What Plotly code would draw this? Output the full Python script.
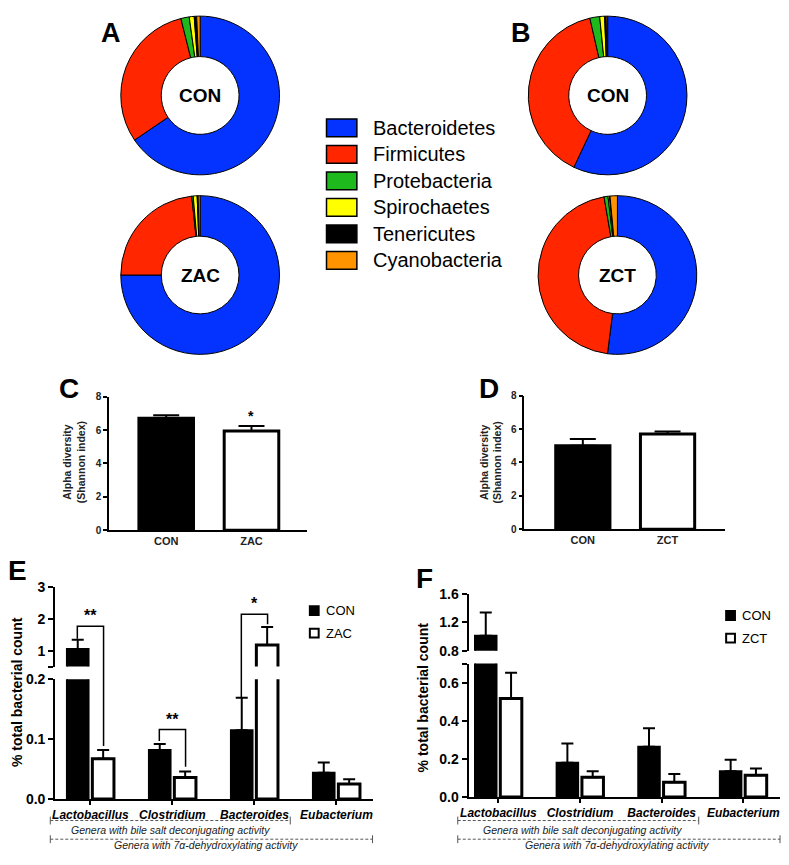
import plotly.graph_objects as go

# the page puts the figure 8px in from the top-left corner (default body margin);
# the figure is kept a little short of the window so that nothing gets cut off
PAGE_W = 789
PAGE_H = 865
OFF = 8
REF_W = PAGE_W - OFF
W = PAGE_W - 2 * OFF
H = PAGE_H - 2 * OFF
FONT = 'Liberation Sans, Arial, sans-serif'

# ---------------- data ----------------
phyla = ['Bacteroidetes', 'Firmicutes', 'Protebacteria', 'Spirochaetes', 'Tenericutes', 'Cyanobacteria']
phyla_colors = ['#0433FF', '#FF2600', '#1DB91D', '#FFFF00', '#000000', '#FF9300']
a_con = [65.5, 30.6, 1.7, 1.0, 0.5, 0.7]
a_zac = [75.0, 23.3, 0.3, 0.8, 0.2, 0.4]
b_con = [57.0, 39.4, 2.0, 1.0, 0.3, 0.3]
b_zct = [52.0, 45.3, 0.8, 0.3, 0.1, 1.5]

groups_c = ['CON', 'ZAC']
shannon_c = [6.70, 5.94]
shannon_c_sem = [0.18, 0.30]
groups_d = ['CON', 'ZCT']
shannon_d = [5.00, 5.70]
shannon_d_sem = [0.40, 0.15]

genera = ['Lactobacillus', 'Clostridium', 'Bacteroides', 'Eubacterium']
e_con = [1.05, 0.082, 0.115, 0.044]
e_con_sem = [0.29, 0.010, 0.054, 0.017]
e_zac = [0.067, 0.036, 1.18, 0.025]
e_zac_sem = [0.015, 0.010, 0.56, 0.008]
f_con = [1.01, 0.18, 0.263, 0.135]
f_con_sem = [0.33, 0.10, 0.097, 0.061]
f_zct = [0.517, 0.103, 0.077, 0.114]
f_zct_sem = [0.135, 0.032, 0.043, 0.036]

# significance brackets in panel E
sig_genus = [0, 1, 2]
sig_top = [1.77, 0.116, 2.14]
sig_left = [1.37, 0.097, 0.169]
sig_right = [0.0885, 0.054, 1.83]
sig_label = ['**', '**', '*']

# ---------------- geometry (page pixels) ----------------
c_x, c_y, c_xr = (103, 305), (396, 532), [-0.67, 1.65]
d_x, d_y, d_xr = (527, 732), (395, 531), [-0.69, 1.68]
e_x, e_xr = (48, 372), [-0.43, 3.44]
e_lo_y, e_lo_r = (684, 806), [0, 0.2]
e_hi_y, e_hi_r = (590, 671), [0.5, 3]
f_x, f_xr = (470, 788), [-0.366, 3.45]
f_lo_y, f_lo_r = (668, 804), [0, 0.7]
f_hi_y, f_hi_r = (597, 655), [0.8, 1.6]


def px(x):
    return (x - OFF) / REF_W


def py(y):
    return 1 - (y - OFF) / H


def clamp(v):
    return min(1.0, max(0.0, v))


def dom_x(b):
    return [px(b[0]), px(b[1])]


def dom_y(b):
    return [py(b[1]), py(b[0])]


def e_ypx(v):
    if v >= e_hi_r[0]:
        (top, bot), (lo, hi) = e_hi_y, e_hi_r
    else:
        (top, bot), (lo, hi) = e_lo_y, e_lo_r
    return bot - (v - lo) / (hi - lo) * (bot - top)


def e_xpx(i):
    return e_x[0] + (i - e_xr[0]) / (e_xr[1] - e_xr[0]) * (e_x[1] - e_x[0])


def note(x, y, text, size, color='black', **kw):
    d = dict(x=px(x), y=py(y), xref='paper', yref='paper', showarrow=False,
             xanchor='center', yanchor='middle', text=text,
             font=dict(family=FONT, size=size, color=color))
    d.update(kw)
    return d


fig = go.Figure()
shapes = []
annotations = []

# ---------------- donuts (A, B) ----------------
R = 81
pies = [(a_con, 196, 89, 'CON'), (a_zac, 196, 272, 'ZAC'),
        (b_con, 612, 89, 'CON'), (b_zct, 622, 272, 'ZCT')]
for vals, cx, cy, lab in pies:
    fig.add_trace(go.Pie(
        labels=phyla, values=vals, hole=0.49, sort=False, direction='clockwise', rotation=0,
        marker=dict(colors=phyla_colors, line=dict(color='black', width=1)),
        textinfo='none', showlegend=False,
        domain=dict(x=[clamp(px(cx - R)), clamp(px(cx + R))],
                    y=[clamp(py(cy + R)), clamp(py(cy - R))])))
    annotations.append(note(cx, cy, '<b>' + lab + '</b>', 19))

# donut legend
for i, (name, col) in enumerate(zip(phyla, phyla_colors)):
    yc = 122 + 27 * i
    shapes.append(dict(type='rect', xref='paper', yref='paper', x0=px(325), x1=px(356),
                       y0=py(yc + 9), y1=py(yc - 9), fillcolor=col,
                       line=dict(color='black', width=1.5)))
    annotations.append(note(370, yc, name, 20, xanchor='left'))

# ---------------- C, D: Shannon bars ----------------
for xs, ys, sem, xa, ya in [(groups_c, shannon_c, shannon_c_sem, 'x', 'y'),
                            (groups_d, shannon_d, shannon_d_sem, 'x2', 'y2')]:
    fig.add_trace(go.Bar(
        x=xs, y=ys, xaxis=xa, yaxis=ya, width=0.64, showlegend=False,
        marker=dict(color=['black', 'white'], line=dict(color='black', width=3)),
        error_y=dict(type='data', array=sem, arrayminus=[0, 0], symmetric=False,
                     color='black', thickness=2, width=13)))

annotations.append(dict(x='ZAC', y=shannon_c[1] + shannon_c_sem[1], xref='x', yref='y',
                        showarrow=False, xanchor='center', yanchor='bottom', text='<b>*</b>',
                        font=dict(family=FONT, size=14, color='black')))

# ---------------- E, F: broken-axis grouped bars ----------------
panels = [(e_con, e_con_sem, e_zac, e_zac_sem, 'ZAC', 'x3', ['y3', 'y4']),
          (f_con, f_con_sem, f_zct, f_zct_sem, 'ZCT', 'x4', ['y5', 'y6'])]
for con, con_sem, trt, trt_sem, trt_name, xa, yas in panels:
    for ya in yas:
        fig.add_trace(go.Bar(
            x=genera, y=con, xaxis=xa, yaxis=ya, name='CON', showlegend=False,
            marker=dict(color='black', line=dict(color='black', width=2)),
            error_y=dict(type='data', array=con_sem, arrayminus=[0] * 4, symmetric=False,
                         color='black', thickness=2, width=6)))
        fig.add_trace(go.Bar(
            x=genera, y=trt, xaxis=xa, yaxis=ya, name=trt_name, showlegend=False,
            marker=dict(color='white', line=dict(color='black', width=3)),
            error_y=dict(type='data', array=trt_sem, arrayminus=[0] * 4, symmetric=False,
                         color='black', thickness=2, width=6)))

# significance brackets
for g, top, left, right, lab in zip(sig_genus, sig_top, sig_left, sig_right, sig_label):
    x1, x2 = e_xpx(g - 0.16), e_xpx(g + 0.16)
    path = 'M {},{} L {},{} L {},{} L {},{}'.format(
        px(x1), py(e_ypx(left)), px(x1), py(e_ypx(top)),
        px(x2), py(e_ypx(top)), px(x2), py(e_ypx(right)))
    shapes.append(dict(type='path', xref='paper', yref='paper', path=path,
                       line=dict(color='black', width=1.5)))
    annotations.append(note(e_xpx(g), e_ypx(top), '<b>' + lab + '</b>', 16, yanchor='bottom'))

# E / F legends
for lx, ly, trt_name in [(308, 614, 'ZAC'), (733, 619, 'ZCT')]:
    for k, (fill, lab) in enumerate([('black', 'CON'), ('white', trt_name)]):
        yc = ly + 23 * k
        shapes.append(dict(type='rect', xref='paper', yref='paper', x0=px(lx), x1=px(lx + 9),
                           y0=py(yc + 4.5), y1=py(yc - 4.5), fillcolor=fill,
                           line=dict(color='black', width=2)))
        annotations.append(note(lx + 14, yc, lab, 13, xanchor='left'))

# dashed activity brackets under E and F
activity = [(43, 288, 828, 166, 838, 'Genera with bile salt deconjugating activity'),
            (43, 372, 847, 202, 853, 'Genera with 7\u03b1-dehydroxylating activity'),
            (459, 705, 828, 586, 838, 'Genera with bile salt deconjugating activity'),
            (459, 788, 847, 622, 853, 'Genera with 7\u03b1-dehydroxylating activity')]
for x0, x1, yl, tx, ty, txt in activity:
    shapes.append(dict(type='line', xref='paper', yref='paper', x0=px(x0), x1=px(x1),
                       y0=py(yl), y1=py(yl), line=dict(color='#555', width=1, dash='3px,2px')))
    for xe in (x0, x1):
        shapes.append(dict(type='line', xref='paper', yref='paper', x0=px(xe), x1=px(xe),
                           y0=py(yl - 4), y1=py(yl + 4), line=dict(color='#555', width=1)))
    annotations.append(note(tx, ty, '<i>' + txt + '</i>', 10.5, color='#222'))

# axis titles
for tx, ty in [(68, 463), (493, 463)]:
    annotations.append(note(tx, ty, '<b>Alpha diversity<br>(Shannon index)</b>', 10.5,
                            color='#222', textangle=-90))
for tx, ty in [(9, 697), (423, 702)]:
    annotations.append(note(tx, ty, '<b>% total bacterial count</b>', 14, textangle=-90))

# panel letters
annotations.append(note(105, OFF, '<b>A</b>', 27, yanchor='top'))
annotations.append(note(524, OFF, '<b>B</b>', 27, yanchor='top'))
for letter, lx, ly in [('C', 62, 388), ('D', 491, 388), ('E', 10, 573), ('F', 425, 581)]:
    annotations.append(note(lx, ly, '<b>' + letter + '</b>', 28))

# ---------------- axes ----------------
base = dict(showline=True, linecolor='black', showgrid=False, zeroline=False,
            ticks='outside', tickcolor='black', fixedrange=True)
small_tick = dict(family=FONT, size=10, color='#222', weight='bold')
big_tick = dict(family=FONT, size=14, color='black', weight='bold')
cat_tick = dict(family=FONT, size=12, color='black', weight='bold', style='italic')

fig.update_layout(
    xaxis=dict(base, domain=dom_x(c_x), range=c_xr, anchor='y', ticks='', linewidth=1.5,
               tickfont=dict(small_tick, size=11)),
    yaxis=dict(base, domain=dom_y(c_y), range=[0, 8], anchor='x', tickvals=[0, 2, 4, 6, 8],
               linewidth=1.5, ticklen=4, tickwidth=1.5, tickfont=small_tick),
    xaxis2=dict(base, domain=dom_x(d_x), range=d_xr, anchor='y2', ticks='', linewidth=1.5,
                tickfont=dict(small_tick, size=11)),
    yaxis2=dict(base, domain=dom_y(d_y), range=[0, 8], anchor='x2', tickvals=[0, 2, 4, 6, 8],
                linewidth=1.5, ticklen=4, tickwidth=1.5, tickfont=small_tick),
    xaxis3=dict(base, domain=dom_x(e_x), range=e_xr, anchor='y3', linewidth=2, ticklen=4,
                tickwidth=1.5, tickangle=0, tickfont=cat_tick),
    yaxis3=dict(base, domain=dom_y(e_lo_y), range=e_lo_r, anchor='x3', linewidth=2,
                tickvals=[0, 0.1, 0.2], ticktext=['0.0', '0.1', '0.2'], ticklen=5, tickwidth=2,
                tickfont=big_tick),
    yaxis4=dict(base, domain=dom_y(e_hi_y), range=e_hi_r, anchor='x3', linewidth=2,
                tickvals=[0.5, 1, 2, 3], ticktext=['', '1', '2', '3'], ticklen=5, tickwidth=2,
                tickfont=big_tick),
    xaxis4=dict(base, domain=dom_x(f_x), range=f_xr, anchor='y5', linewidth=2, ticklen=4,
                tickwidth=1.5, tickangle=0, tickfont=cat_tick),
    yaxis5=dict(base, domain=dom_y(f_lo_y), range=f_lo_r, anchor='x4', linewidth=2,
                tickvals=[0, 0.2, 0.4, 0.6, 0.7], ticktext=['0.0', '0.2', '0.4', '0.6', ''],
                ticklen=5, tickwidth=2, tickfont=big_tick),
    yaxis6=dict(base, domain=dom_y(f_hi_y), range=f_hi_r, anchor='x4', linewidth=2,
                tickvals=[0.8, 1.2, 1.6], ticktext=['0.8', '1.2', '1.6'], ticklen=5, tickwidth=2,
                tickfont=big_tick),
    barmode='group', bargap=0.38, bargroupgap=0.15,
    shapes=shapes, annotations=annotations,
    width=W, height=H, margin=dict(l=0, r=0, t=0, b=0),
    paper_bgcolor='white', plot_bgcolor='white',
    font=dict(family=FONT, color='black'),
    showlegend=False,
)

fig.write_html('out.html')
